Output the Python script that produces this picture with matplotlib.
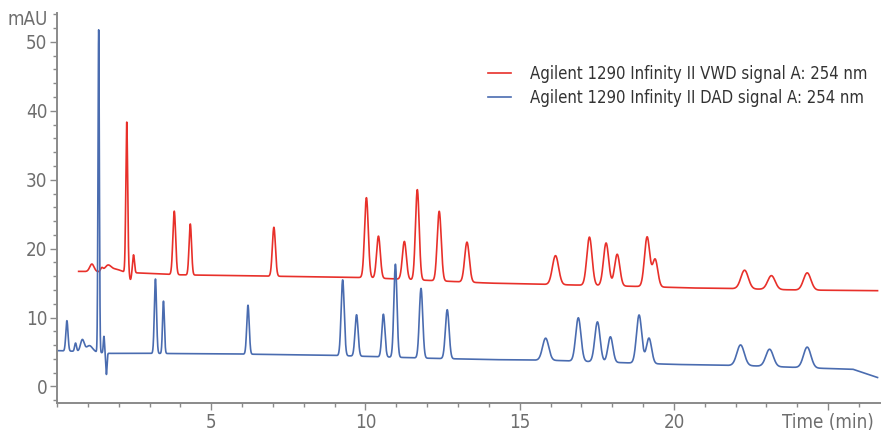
import numpy as np
import matplotlib
matplotlib.use("Agg")
import matplotlib.pyplot as plt
from matplotlib.ticker import MultipleLocator

plt.rcParams['font.family'] = ['DejaVu Sans']
plt.rcParams['font.stretch'] = 'condensed'

# VWD trace (red): baseline anchors and peaks (retention time, height above baseline, sigma)
vwd_base_t = [0.7, 2.0, 4.0, 7.0, 10.0, 12.5, 14.0, 16.0, 19.0, 20.5, 22.0, 24.0, 26.6]
vwd_base_y = [16.7, 16.6, 16.2, 16.0, 15.8, 15.3, 15.0, 14.8, 14.5, 14.3, 14.2, 14.0, 13.9]
vwd_rt = [1.13, 1.45, 1.65, 1.9, 2.26, 2.38, 2.48, 3.80, 4.32, 7.03, 10.03, 10.42, 11.26, 11.68,
          12.39, 13.29, 16.16, 17.26, 17.80, 18.16, 19.13, 19.39, 22.29, 23.16, 24.32]
vwd_h = [1.1, 0.5, 0.9, 0.4, 21.8, -1.0, 2.6, 9.2, 7.4, 7.1, 11.6, 6.1, 5.5, 13.1,
         10.1, 5.8, 4.2, 7.0, 6.2, 4.6, 7.2, 4.0, 2.7, 2.0, 2.5]
vwd_w = [0.07, 0.04, 0.1, 0.15, 0.03, 0.03, 0.03, 0.045, 0.04, 0.05, 0.06, 0.06, 0.065, 0.06,
         0.065, 0.075, 0.1, 0.085, 0.085, 0.085, 0.085, 0.085, 0.12, 0.12, 0.12]

# DAD trace (blue)
dad_base_t = [0.0, 1.2, 1.7, 3.0, 6.0, 9.0, 12.0, 14.0, 16.0, 18.0, 20.0, 22.5, 25.0, 25.8, 26.6]
dad_base_y = [5.2, 5.0, 4.8, 4.8, 4.7, 4.5, 4.1, 3.9, 3.8, 3.5, 3.2, 3.0, 2.6, 2.5, 1.3]
dad_rt = [0.32, 0.60, 0.82, 1.05, 1.35, 1.52, 1.60, 3.19, 3.45, 6.19, 9.26, 9.71, 10.58, 10.97,
          11.80, 12.65, 15.84, 16.90, 17.52, 17.94, 18.87, 19.19, 22.16, 23.10, 24.32]
dad_h = [4.4, 1.2, 1.7, 0.9, 46.8, 2.4, -3.1, 10.8, 7.6, 7.1, 11.0, 6.0, 6.2, 13.5,
         10.1, 7.1, 3.2, 6.3, 5.8, 3.7, 7.0, 3.7, 3.0, 2.5, 3.0]
dad_w = [0.035, 0.03, 0.06, 0.1, 0.022, 0.02, 0.02, 0.035, 0.03, 0.04, 0.05, 0.05, 0.05, 0.05,
         0.055, 0.06, 0.1, 0.085, 0.085, 0.08, 0.085, 0.085, 0.12, 0.12, 0.12]

labels = ["Agilent 1290 Infinity II VWD signal A: 254 nm",
          "Agilent 1290 Infinity II DAD signal A: 254 nm"]


def trace(t, base_t, base_y, rt, h, w):
    y = np.interp(t, base_t, base_y)
    for r, a, s in zip(rt, h, w):
        y = y + a * np.exp(-0.5 * ((t - r) / s) ** 2)
    return y


t_vwd = np.linspace(vwd_base_t[0], vwd_base_t[-1], 8000)
t_dad = np.linspace(dad_base_t[0], dad_base_t[-1], 8000)
y_vwd = trace(t_vwd, vwd_base_t, vwd_base_y, vwd_rt, vwd_h, vwd_w)
y_dad = trace(t_dad, dad_base_t, dad_base_y, dad_rt, dad_h, dad_w)

fig = plt.figure(figsize=(8.83, 4.30), dpi=100)
ax = fig.add_axes([0.0646, 0.0628, 0.932, 0.907])

ax.plot(t_vwd, y_vwd, color='#e8302a', lw=1.2, label=labels[0])
ax.plot(t_dad, y_dad, color='#4a6cb0', lw=1.2, label=labels[1])

ax.set_xlim(0, 26.68)
ax.set_ylim(-2.4, 54.2)

gray = '#6e6e6e'
for s in ['top', 'right']:
    ax.spines[s].set_visible(False)
for s in ['left', 'bottom']:
    ax.spines[s].set_color('#8a8a8a')
    ax.spines[s].set_linewidth(1.4)

ax.xaxis.set_major_locator(MultipleLocator(5))
ax.xaxis.set_minor_locator(MultipleLocator(1))
ax.yaxis.set_major_locator(MultipleLocator(10))
ax.yaxis.set_minor_locator(MultipleLocator(2))
ax.set_xticks([5, 10, 15, 20, 25])
ax.set_xticklabels(['5', '10', '15', '20', 'Time (min)'])
ax.tick_params(which='major', length=5, width=1, color='#8a8a8a', labelcolor=gray,
               labelsize=13.5, pad=2)
ax.tick_params(which='minor', length=3, width=1, color='#8a8a8a')

ax.text(-0.31, 53.2, 'mAU', ha='right', va='center', fontsize=13.5, color=gray)

leg = ax.legend(loc='upper left', bbox_to_anchor=(0.505, 0.905), frameon=False,
                fontsize=12, handlelength=1.4, handletextpad=1.15, labelspacing=0.35,
                labelcolor='#333333')

fig.savefig('out.png', dpi=100)
